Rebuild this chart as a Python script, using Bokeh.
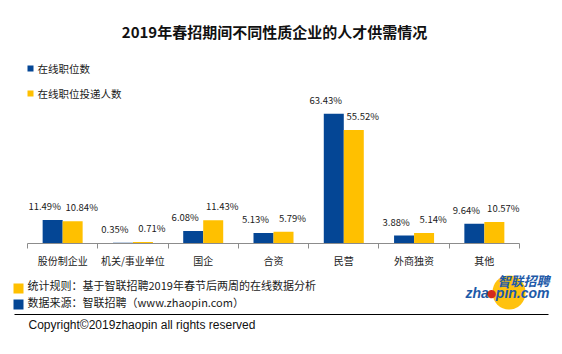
from bokeh.plotting import figure
from bokeh.models import Range1d, FixedTicker, Label, BoxAnnotation, ColumnDataSource
from bokeh.layouts import column
from bokeh.embed import file_html
from bokeh.resources import INLINE
from bokeh.core.properties import value

# ---------------- data ----------------
title_text = "2019年春招期间不同性质企业的人才供需情况"
categories = ["股份制企业", "机关/事业单位", "国企", "合资", "民营", "外商独资", "其他"]
series_names = ["在线职位数", "在线职位投递人数"]
jobs_share = [11.49, 0.35, 6.08, 5.13, 63.43, 3.88, 9.64]
applicants_share = [10.84, 0.71, 11.43, 5.79, 55.52, 5.14, 10.57]
note_rule = "统计规则：基于智联招聘2019年春节后两周的在线数据分析"
note_source = "数据来源：智联招聘（www.zhaopin.com）"
copyright_text = "Copyright©2019zhaopin all rights reserved"

# ---------------- style / layout ----------------
W, H = 562, 354
TOP_H = 48          # title strip height
BOT_Y = 270         # footer strip starts here (canvas px)
AL, AR, FB = 27, 519, 245   # category axis left/right and baseline in canvas px
PX_PER_UNIT = 2.065
BLUE = "#044695"
YELLOW = "#FFC000"
CJK = "Noto Sans CJK SC"
n = len(categories)
u = (AR - AL) / n   # px per category


def clean(f):
    f.outline_line_color = None
    f.xgrid.grid_line_color = None
    f.ygrid.grid_line_color = None
    f.background_fill_color = "white"
    f.border_fill_color = "white"
    return f


def strip(height, y0):
    """An empty figure whose frame is the whole strip; data units = canvas px."""
    f = figure(width=W, height=height, x_range=Range1d(0, W), y_range=Range1d(y0 + height, y0),
               min_border_left=0, min_border_right=0, min_border_top=0, min_border_bottom=0,
               x_axis_location=None, y_axis_location=None,
               output_backend="svg", toolbar_location=None, tools="")
    return clean(f)


def label(f, text, cx, cy, size, color="#1a1a1a", align="left", style="normal", font=CJK,
          screen_origin=None):
    if screen_origin is not None:
        ox, oy = screen_origin
        kw = dict(x=cx - ox, y=oy - cy, x_units="screen", y_units="screen")
    else:
        kw = dict(x=cx, y=cy)
    f.add_layout(Label(text=text, text_align=align, text_baseline="middle", text_font=font,
                       text_font_size=size, text_color=color, text_font_style=style, **kw))


def box(f, x0, y0, x1, y1, color, radius=0, screen_origin=None):
    if screen_origin is not None:
        ox, oy = screen_origin
        kw = dict(left=x0 - ox, right=x1 - ox, top=oy - y0, bottom=oy - y1,
                  left_units="screen", right_units="screen",
                  top_units="screen", bottom_units="screen")
    else:
        kw = dict(left=x0, right=x1, top=y0, bottom=y1)
    f.add_layout(BoxAnnotation(fill_color=color, fill_alpha=1, line_color=None,
                               border_radius=radius, **kw))


# ---- title strip ----
top = strip(TOP_H, 0)
label(top, title_text, 274, 31, "15px", "#111111", "center", "bold")

# ---- chart (frame spans the full width; axis bounded to the categories) ----
CH = BOT_Y - TOP_H
p = figure(width=W, height=CH,
           x_range=Range1d(-AL / u, (W - AL) / u),
           y_range=Range1d(0, (FB - TOP_H) / PX_PER_UNIT),
           min_border_left=0, min_border_right=0,
           min_border_top=0, min_border_bottom=BOT_Y - FB,
           y_axis_location=None, output_backend="svg", toolbar_location=None, tools="")
clean(p)

ax = p.xaxis[0]
ax.bounds = (0, n)
ax.ticker = FixedTicker(ticks=[i + 0.5 for i in range(n)], minor_ticks=list(range(n + 1)))
ax.major_label_overrides = {i + 0.5: c for i, c in enumerate(categories)}
ax.major_tick_line_color = None
ax.major_tick_out = 0
ax.major_tick_in = 0
ax.minor_tick_line_color = "#8c8c8c"
ax.minor_tick_out = 5
ax.minor_tick_in = 0
ax.axis_line_color = "#8c8c8c"
ax.major_label_text_font = CJK
ax.major_label_text_font_size = "10px"
ax.major_label_text_color = "#222222"
ax.major_label_standoff = 4

bw = 20 / u
centers = [i + 0.5 for i in range(n)]
src = ColumnDataSource(dict(
    xb=[c - bw / 2 for c in centers], xy=[c + bw / 2 for c in centers],
    jobs=jobs_share, apps=applicants_share,
    tj=[f"{v:.2f}%" for v in jobs_share], ta=[f"{v:.2f}%" for v in applicants_share],
))
p.vbar(x="xb", top="jobs", width=bw, source=src, fill_color=BLUE, line_color=None)
p.vbar(x="xy", top="apps", width=bw, source=src, fill_color=YELLOW, line_color=None)

common = dict(source=src, text_align="center", text_baseline="middle",
              text_font=value(CJK), text_font_size="9.5px", text_color="#1a1a1a", y_offset=-14)
p.text(x="xb", y="jobs", text="tj", x_offset=-8, **common)
p.text(x="xy", y="apps", text="ta", x_offset=9, **common)

# legend (inside the chart frame; screen origin = frame bottom-left in canvas px)
org = (0, FB)
box(p, 27, 67, 33, 73, BLUE, screen_origin=org)
label(p, series_names[0], 37, 70, "10.5px", screen_origin=org)
box(p, 27, 92, 33, 98, YELLOW, screen_origin=org)
label(p, series_names[1], 37, 95, "10.5px", screen_origin=org)

# ---- footer strip ----
bot = strip(H - BOT_Y, BOT_Y)
# logo (circle first so texts draw over it)
box(bot, 492, 275, 525, 309, "#FFC20E", radius=17)
label(bot, "智联招聘", 549, 280, "13px", "#1E5AA8", "right", "bold italic")
label(bot, "zha", 465, 292, "14px", "#1E5AA8", "left", "bold italic", "Liberation Sans")
label(bot, "●", 491, 293, "11px", "#D42A1E", "center", "normal", "DejaVu Sans")
label(bot, "pin.com", 549, 292, "14px", "#1E5AA8", "right", "bold italic", "Liberation Sans")

box(bot, 13, 283, 23, 293, YELLOW)
label(bot, note_rule, 27, 284, "11px")
box(bot, 13, 299, 23, 309, BLUE)
label(bot, note_source, 27, 301, "11px")
box(bot, 14, 313.5, 548, 314.5, "#000000")
label(bot, copyright_text, 28, 324, "12px", "#111111", font="Liberation Sans")

layout = column(top, p, bot, spacing=0)
open("out.html", "w").write(file_html(layout, INLINE))
